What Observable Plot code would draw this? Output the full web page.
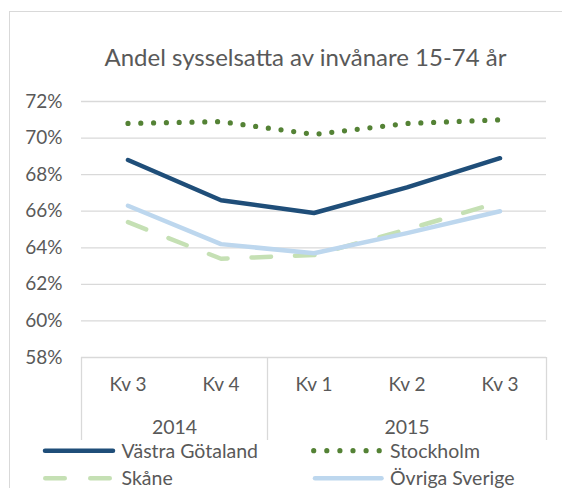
<!DOCTYPE html>
<html><head><meta charset="utf-8">
<script src="https://cdn.jsdelivr.net/npm/d3@7"></script>
<script src="https://cdn.jsdelivr.net/npm/@observablehq/plot@0.6"></script>
<style>
html,body{margin:0;padding:0;background:#fff;}
#wrap{position:relative;width:562px;height:488px;overflow:hidden;font-family:Lato,"Noto Sans",sans-serif;color:#595959;}
#frame{position:absolute;left:9px;top:11px;width:600px;height:500px;border-left:1.5px solid #d9d9d9;border-top:1.5px solid #d9d9d9;box-sizing:border-box;}
#title{position:absolute;left:0;width:611px;top:42px;text-align:center;font-size:24px;line-height:29px;white-space:nowrap;}
#chart{position:absolute;left:0;top:0;}
#legend{position:absolute;left:0;top:0;}
</style></head>
<body>
<div id="wrap">
  <div id="frame"></div>
  <div id="title">Andel sysselsatta av invånare 15-74 år</div>
  <div id="chart"></div>
  <svg id="legend" width="562" height="488"></svg>
</div>
<script>
// ---- data ----
const quarters = ["Kv 3", "Kv 4", "Kv 1", "Kv 2", "Kv 3"];
const years = ["2014", "2014", "2015", "2015", "2015"];
const seriesNames = ["Västra Götaland", "Stockholm", "Skåne", "Övriga Sverige"];
const vastraGotaland = [68.8, 66.6, 65.9, 67.3, 68.9];
const stockholm = [70.8, 70.9, 70.2, 70.8, 71.0];
const skane = [65.4, 63.4, 63.6, 65.0, 66.5];
const ovrigaSverige = [66.3, 64.2, 63.7, 64.8, 66.0];
const yTicks = [58, 60, 62, 64, 66, 68, 70, 72];

// ---- styles ----
const styles = {
  "Västra Götaland": {stroke: "#1f4e79", width: 4.5, dash: null},
  "Stockholm": {stroke: "#548235", width: 5.2, dash: "0 12.8"},
  "Skåne": {stroke: "#c5e0b4", width: 4.5, dash: "19.5 24"},
  "Övriga Sverige": {stroke: "#bdd7ee", width: 4.5, dash: null}
};
const valuesBySeries = [vastraGotaland, stockholm, skane, ovrigaSverige];
const TEXT = "#595959", GRID = "#d9d9d9";
const FONT = "Lato, 'Noto Sans', sans-serif";

const n = quarters.length;
const rows = seriesNames.flatMap((name, k) => valuesBySeries[k].map((v, i) => ({name, i, v})));
const boundaries = [-0.5];
for (let i = 1; i < n; i++) if (years[i] !== years[i - 1]) boundaries.push(i - 0.5);
boundaries.push(n - 0.5);
const yearGroups = d3.groups(years.map((y, i) => ({y, i})), d => d.y)
  .map(([year, arr]) => ({year, mid: d3.mean(arr, d => d.i)}));

const lineMarks = seriesNames.map(name => {
  const s = styles[name];
  return Plot.line(rows.filter(r => r.name === name), {
    x: "i", y: "v", stroke: s.stroke, strokeWidth: s.width,
    strokeDasharray: s.dash || undefined,
    strokeLinecap: "round", strokeLinejoin: "round"
  });
});

const chart = Plot.plot({
  width: 562, height: 445,
  marginLeft: 81, marginRight: 16, marginTop: 101, marginBottom: 88,
  style: {fontFamily: FONT, color: TEXT, background: "transparent", overflow: "visible"},
  x: {domain: [-0.5, n - 0.5], axis: null},
  y: {domain: [58, 72]},
  marks: [
    Plot.ruleY(yTicks, {x1: -0.5, x2: n - 0.5, stroke: GRID, strokeWidth: 1.3}),
    Plot.ruleX(boundaries, {y1: 58, y2: 58, insetBottom: -83, stroke: GRID, strokeWidth: 1.3}),
    Plot.axisY(yTicks, {tickSize: 0, tickPadding: 19, tickFormat: d => d + "%", fontSize: 19, label: null}),
    Plot.text(quarters, {x: (d, i) => i, y: 58, dy: 27, text: d => d, fontSize: 19, fill: TEXT}),
    Plot.text(yearGroups, {x: "mid", y: 58, dy: 70, text: "year", fontSize: 19.5, fill: TEXT}),
    ...lineMarks
  ]
});
document.getElementById("chart").appendChild(chart);

// ---- legend ----
const legendLayout = [
  {name: "Västra Götaland", x1: 45, x2: 113, tx: 121.5, y: 450.7},
  {name: "Stockholm", x1: 313.7, x2: 379.3, tx: 390, y: 450.7},
  {name: "Skåne", x1: 45.25, x2: 110.5, tx: 121.5, y: 478.3},
  {name: "Övriga Sverige", x1: 315, x2: 381.5, tx: 390, y: 478.3}
];
const lg = d3.select("#legend");
legendLayout.forEach(L => {
  const s = styles[L.name];
  lg.append("line").attr("x1", L.x1).attr("x2", L.x2).attr("y1", L.y).attr("y2", L.y)
    .attr("stroke", s.stroke).attr("stroke-width", s.width)
    .attr("stroke-linecap", "round")
    .attr("stroke-dasharray", L.name === "Stockholm" ? "0 13.1" : (L.name === "Skåne" ? "19.5 25.5" : null));
  lg.append("text").attr("x", L.tx).attr("y", L.y).attr("dy", "0.35em")
    .attr("fill", TEXT).attr("font-size", 19.5).attr("font-family", FONT)
    .text(L.name);
});
</script>
</body></html>
